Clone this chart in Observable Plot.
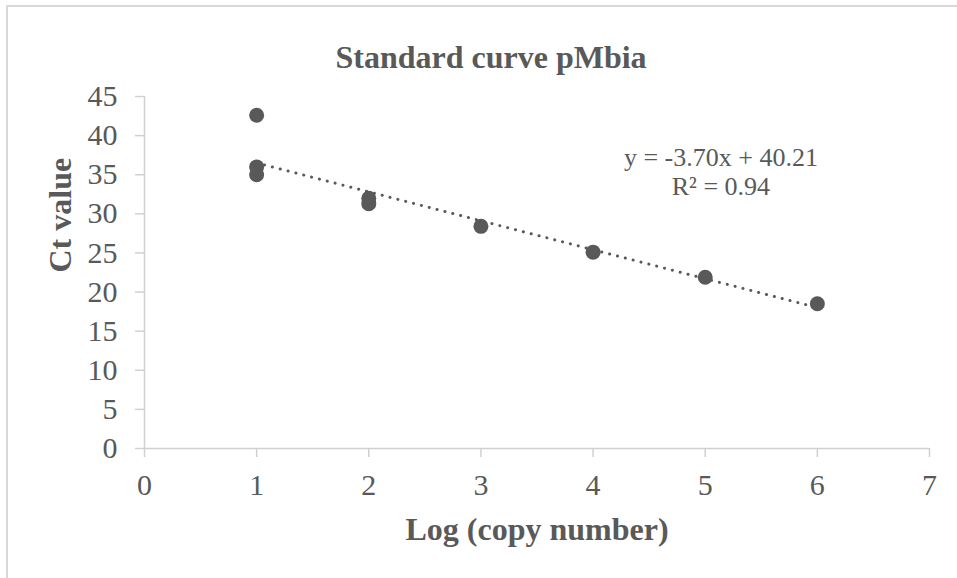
<!DOCTYPE html>
<html>
<head>
<meta charset="utf-8">
<script src="https://cdn.jsdelivr.net/npm/d3@7"></script>
<script src="https://cdn.jsdelivr.net/npm/@observablehq/plot@0.6"></script>
<style>
  html, body { margin: 0; padding: 0; background: #fff; overflow: hidden; }
  #wrap { position: relative; width: 957px; height: 578px; }
  #border { position: absolute; left: 6px; top: 5px; width: 1000px; height: 600px;
            border-top: 2px solid #d9d9d9; border-left: 2px solid #d9d9d9; box-sizing: border-box; }
  #chart { position: absolute; left: 0; top: 0; }
</style>
</head>
<body>
<div id="wrap"><div id="border"></div><div id="chart"></div></div>
<script>
// Data
const logCopy = [1, 1, 1, 2, 2, 3, 4, 5, 6];
const ctValue = [42.6, 36.0, 35.0, 32.0, 31.3, 28.4, 25.1, 21.9, 18.5];
// Trendline shown in the chart (y = -3.70x + 40.21), drawn over x from 1 to 6
const trendSlope = -3.70;
const trendIntercept = 40.21;
const trendRangeX = [1, 6];
const xTicks = [0, 1, 2, 3, 4, 5, 6, 7];
const yTicks = [0, 5, 10, 15, 20, 25, 30, 35, 40, 45];
const titleText = "Standard curve pMbia";
const xLabel = "Log (copy number)";
const yLabel = "Ct value";
const eqLines = ["y = -3.70x + 40.21", "R\u00B2 = 0.94"];

const points = logCopy.map((x, i) => ({x, y: ctValue[i]}));
const trend = trendRangeX.map(x => ({x, y: trendSlope * x + trendIntercept}));
const eq = eqLines.map((t, i) => ({t, i}));

const gray = "#595959";
const axisGray = "#d0d0d0";
const font = "'Liberation Serif', 'Times New Roman', serif";

const chart = Plot.plot({
  width: 957,
  height: 578,
  marginLeft: 144,
  marginRight: 28,
  marginTop: 96,
  marginBottom: 130,
  style: {fontFamily: font, fontSize: "30px", color: gray, background: "transparent", overflow: "visible"},
  x: {domain: [0, 7]},
  y: {domain: [0, 45]},
  marks: [
    Plot.ruleY([0], {stroke: axisGray, strokeWidth: 1.5}),
    Plot.ruleX([0], {stroke: axisGray, strokeWidth: 1.5}),
    Plot.axisX({ticks: xTicks, tickSize: 9, tickPadding: 16, stroke: axisGray, strokeWidth: 1.5, fill: gray, label: null, tickFormat: d => String(d)}),
    Plot.axisY({ticks: yTicks, tickSize: 9, tickPadding: 18, stroke: axisGray, strokeWidth: 1.5, fill: gray, label: null, tickFormat: d => String(d)}),
    Plot.line(trend, {x: "x", y: "y", stroke: gray, strokeWidth: 3, strokeDasharray: "0.1 8", strokeLinecap: "round"}),
    Plot.dot(points, {x: "x", y: "y", r: 7.5, fill: gray, stroke: "none"}),
    Plot.text(eq, {x: 5.14, y: d => d.i === 0 ? 37.2 : 33.5, text: "t", fontSize: 26, fill: gray, textAnchor: "middle", lineAnchor: "middle"}),
    Plot.text([titleText], {frameAnchor: "top", lineAnchor: "middle", dx: -46, dy: -39, fontSize: 32, fontWeight: "bold", fill: gray}),
    Plot.text([xLabel], {frameAnchor: "bottom", lineAnchor: "middle", dy: 81, fontSize: 32, fontWeight: "bold", fill: gray}),
    Plot.text([yLabel], {frameAnchor: "left", lineAnchor: "middle", dx: -84, rotate: -90, fontSize: 32, fontWeight: "bold", fill: gray})
  ]
});
document.getElementById("chart").appendChild(chart);
</script>
</body>
</html>
